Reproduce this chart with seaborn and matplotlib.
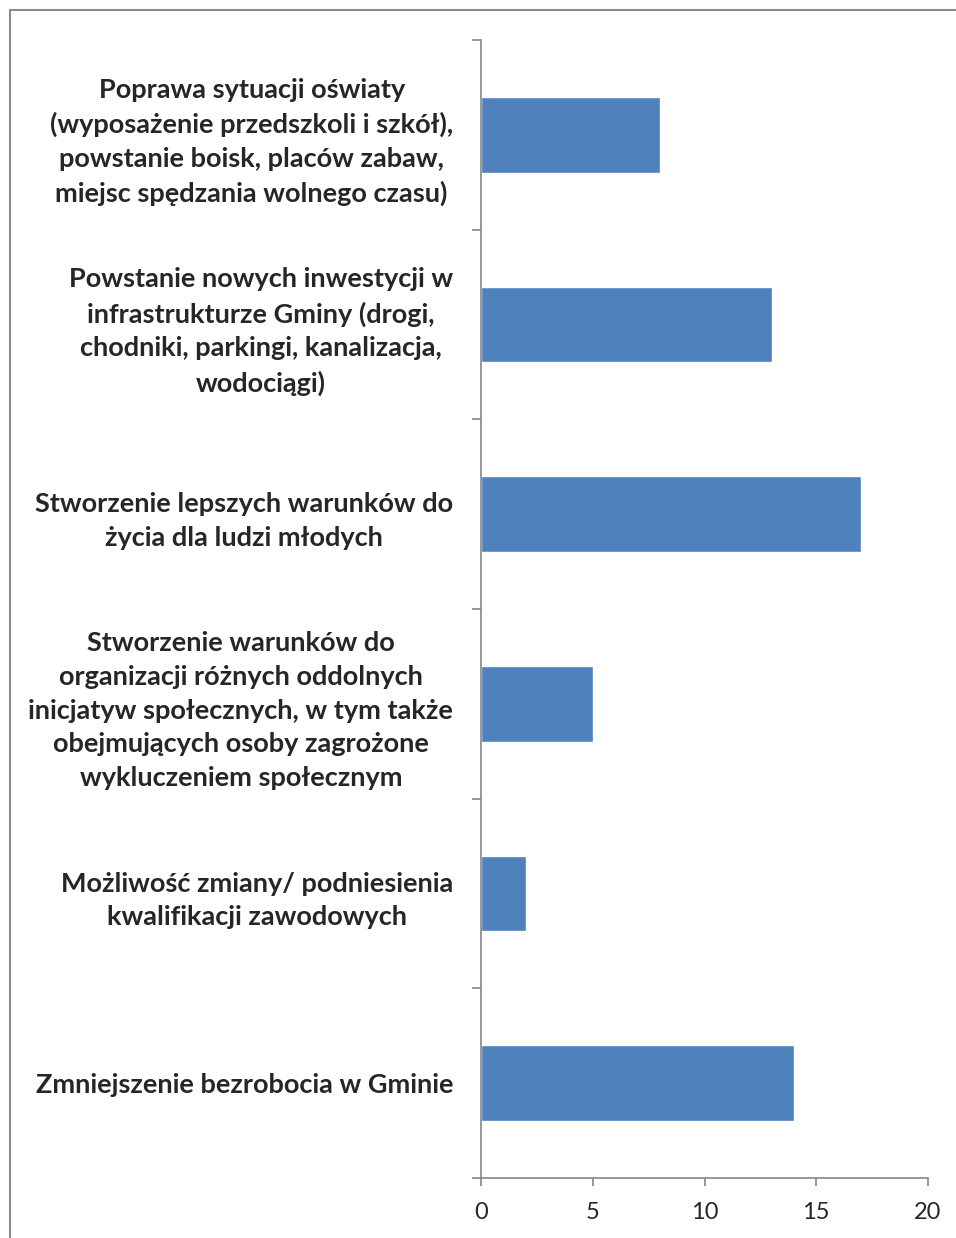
import matplotlib
matplotlib.use("Agg")
import matplotlib.pyplot as plt
from matplotlib.lines import Line2D
import seaborn as sns
import pandas as pd

categories = [
    "Poprawa sytuacji oświaty\n(wyposażenie przedszkoli i szkół),\npowstanie boisk, placów zabaw,\nmiejsc spędzania wolnego czasu)",
    "Powstanie nowych inwestycji w\ninfrastrukturze Gminy (drogi,\nchodniki, parkingi, kanalizacja,\nwodociągi)",
    "Stworzenie lepszych warunków do\nżycia dla ludzi młodych",
    "Stworzenie warunków do\norganizacji różnych oddolnych\ninicjatyw społecznych, w tym także\nobejmujących osoby zagrożone\nwykluczeniem społecznym",
    "Możliwość zmiany/ podniesienia\nkwalifikacji zawodowych",
    "Zmniejszenie bezrobocia w Gminie",
]
values = [8, 13, 17, 5, 2, 14]
x_ticks = [0, 5, 10, 15, 20]

df = pd.DataFrame({"kategoria": categories, "wartosc": values})

sns.set_style("white")
plt.rcParams["font.family"] = ["Lato", "DejaVu Sans"]

W, H = 956, 1238
fig = plt.figure(figsize=(W / 100, H / 100), dpi=100)
ax = fig.add_axes([481 / W, 1 - 1178 / H, (928 - 481) / W, (1178 - 40) / H])

sns.barplot(data=df, x="wartosc", y="kategoria", orient="h", color="#4F81BD",
            saturation=1, width=0.4, ax=ax)

ax.set_xlim(0, 20)
ax.set_ylim(5.5, -0.5)
ax.set_xticks(x_ticks)
ax.set_xticklabels([str(t) for t in x_ticks], fontsize=17)
ax.set_xlabel("")
ax.set_ylabel("")

# category labels centred on bars, ticks on category boundaries
ax.set_yticks(range(len(categories)))
ax.set_yticklabels(categories, fontsize=19.5, fontweight="bold",
                   multialignment="center", linespacing=1.48)
ax.set_yticks([i - 0.5 for i in range(len(categories) + 1)], minor=True)
ax.tick_params(axis="y", which="major", left=True, length=0, pad=20)
ax.tick_params(axis="y", which="minor", left=True, length=6.5, width=1.2,
               color="#868686", direction="out")
ax.tick_params(axis="x", which="major", bottom=True, length=6, width=1.2,
               color="#868686", direction="out", pad=11)

for s in ["top", "right"]:
    ax.spines[s].set_visible(False)
for s in ["left", "bottom"]:
    ax.spines[s].set_color("#868686")
    ax.spines[s].set_linewidth(1.2)

# outer frame of the chart area
fig.add_artist(Line2D([10 / W, 10 / W], [0, 1 - 10 / H], transform=fig.transFigure,
                      color="#8c8c8c", lw=1.5))
fig.add_artist(Line2D([10 / W, 1], [1 - 10 / H, 1 - 10 / H], transform=fig.transFigure,
                      color="#8c8c8c", lw=1.5))

fig.savefig("out.png", dpi=100)
